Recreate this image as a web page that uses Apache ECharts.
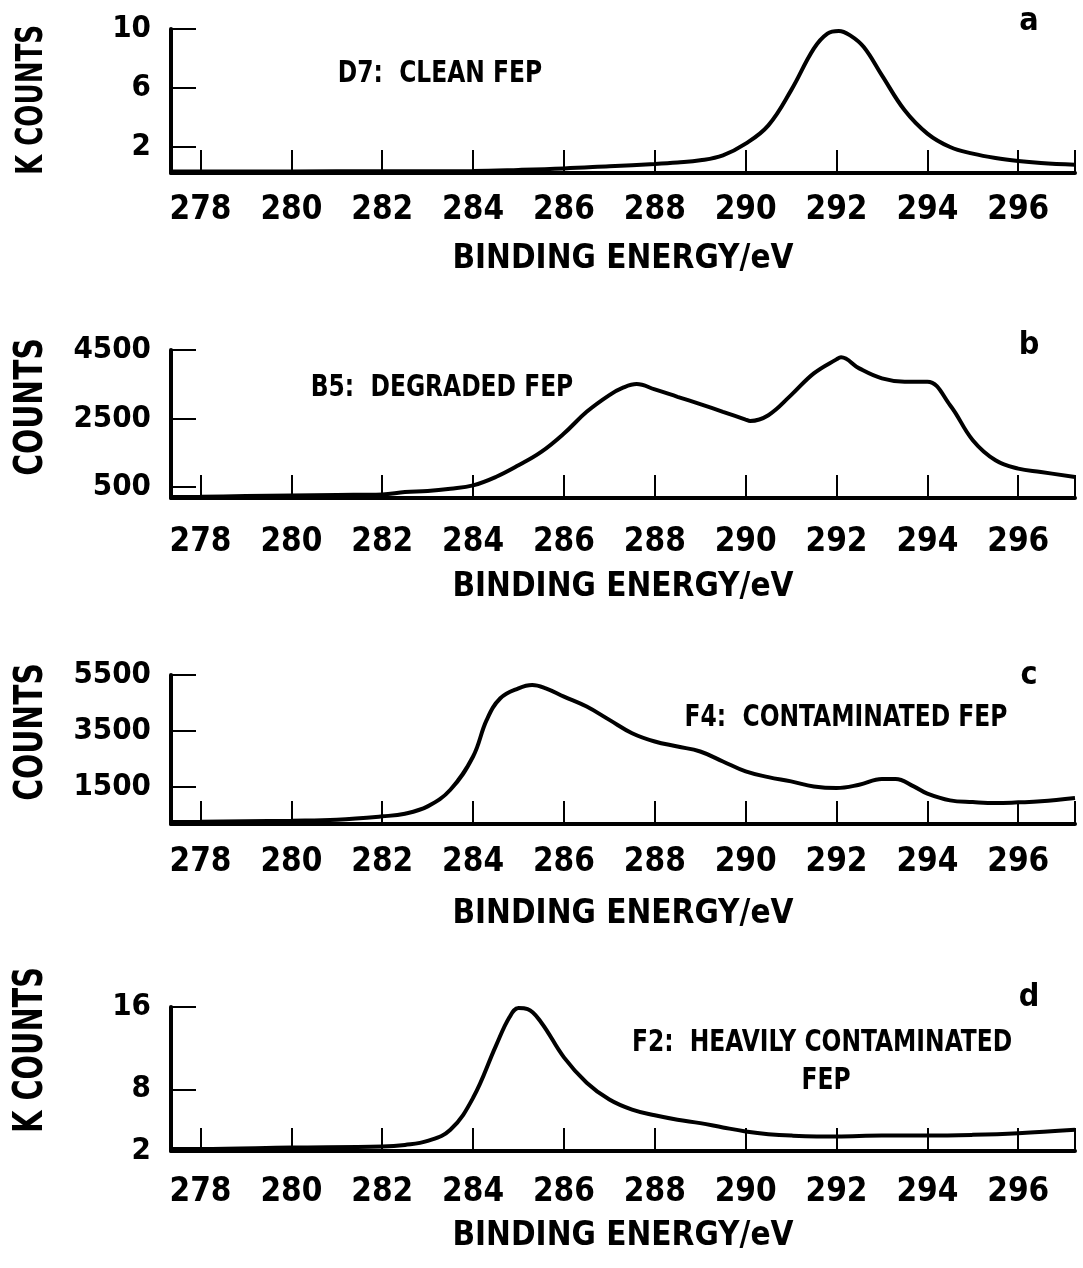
<!DOCTYPE html>
<html>
<head>
<meta charset="utf-8">
<script src="https://cdn.jsdelivr.net/npm/echarts@6/dist/echarts.min.js"></script>
<style>
html,body{margin:0;padding:0;background:#fff}
#main{width:1083px;height:1268px}
</style>
</head>
<body>
<div id="main"></div>
<script>
// x 轴刻度 (eV)
var energyTicks = [278,280,282,284,286,288,290,292,294,296];
var energyMin = 277.35, energyMax = 297.25;

// a: D7 clean FEP (K counts)
var energyA = [277.35,278,280,282,284,285,286,287,288,288.5,289,289.5,290,290.5,291,291.5,291.8,292.05,292.3,292.6,293,293.5,294,294.5,295,295.5,296,296.5,297.25];
var countsA = [0.35,0.35,0.35,0.36,0.38,0.45,0.55,0.7,0.85,0.95,1.1,1.44,2.23,3.47,5.84,8.67,9.69,9.87,9.57,8.78,6.86,4.49,2.91,2.0,1.55,1.25,1.05,0.92,0.8];
var ticksA = [2,6,10];

// b: B5 degraded FEP (counts)
var energyB = [277.35,278,279,280,281,282,282.5,283,283.5,284,284.5,285,285.5,286,286.5,287,287.3,287.6,288,288.5,289,289.5,290,290.1,290.5,291,291.5,292,292.1,292.5,293,293.5,294,294.5,295,295.5,296,296.5,297.25];
var countsB = [210,215,235,255,270,285,354,383,450,550,793,1134,1524,2061,2695,3183,3400,3505,3349,3134,2920,2695,2470,2430,2597,3183,3817,4227,4285,3963,3670,3573,3573,2890,1866,1280,1037,939,793];
var ticksB = [500,2500,4500];

// c: F4 contaminated FEP (counts)
var energyC = [277.35,278,279,280,281,282,282.5,283,283.5,284,284.3,284.6,285,285.3,285.6,286,286.5,287,287.5,288,288.5,289,289.5,290,290.5,291,291.5,292,292.5,293,293.3,293.7,294,294.5,295,295.5,296,296.5,297.25];
var countsC = [250,260,280,300,337,455,550,811,1405,2592,3898,4669,5025,5144,5025,4729,4373,3898,3423,3126,2948,2770,2414,2058,1856,1702,1524,1464,1583,1785,1785,1524,1263,1025,966,930,954,990,1108];
var ticksC = [1500,3500,5500];

// d: F2 heavily contaminated FEP (K counts)
var energyD = [277.35,278,280,282,282.5,283,283.5,284,284.5,284.8,285,285.2,285.5,286,286.5,287,287.5,288,288.5,289,289.5,290,290.5,291,292,293,294,295,296,297.25];
var countsD = [2.2,2.2,2.33,2.43,2.59,2.98,4.06,7.17,12.2,15.0,15.9,15.8,14.5,11.1,8.64,7.0,6.02,5.47,5.04,4.71,4.29,3.9,3.63,3.5,3.41,3.5,3.5,3.57,3.73,4.06];
var ticksD = [2,8,16];

var FONT = "'Liberation Sans Narrow','DejaVu Sans Condensed','Liberation Sans',Arial,sans-serif";

function pairs(xs, ys) {
    return xs.map(function (x, i) { return [x, ys[i]]; });
}

// 每个面板的位置
var panels = [
    {top: 29,   height: 144, min: 0.24, max: 10,   ticks: ticksA, data: pairs(energyA, countsA), labelMargin: 21, nameGap: 70},
    {top: 350,  height: 148, min: 180,  max: 4500, ticks: ticksB, data: pairs(energyB, countsB), labelMargin: 28, nameGap: 73},
    {top: 675,  height: 149, min: 182,  max: 5500, ticks: ticksC, data: pairs(energyC, countsC), labelMargin: 22, nameGap: 74},
    {top: 1007, height: 144, min: 2,    max: 16,   ticks: ticksD, data: pairs(energyD, countsD), labelMargin: 25, nameGap: 69}
];

var grids = [], xAxes = [], yAxes = [], series = [];
panels.forEach(function (p, i) {
    grids.push({left: 171, right: 8, top: p.top, height: p.height});
    xAxes.push({
        type: 'value', gridIndex: i, min: energyMin, max: energyMax,
        name: 'BINDING ENERGY/eV', nameLocation: 'middle', nameGap: p.nameGap,
        nameTextStyle: {fontFamily: FONT, fontWeight: 'bold', fontSize: 33, color: '#000'},
        axisLine: {lineStyle: {color: '#000', width: 4}},
        axisTick: {inside: true, length: 23, lineStyle: {color: '#000', width: 2},
            customValues: energyTicks.concat([energyMax])},
        axisLabel: {customValues: energyTicks, margin: p.labelMargin, color: '#000',
            fontFamily: FONT, fontWeight: 'bold', fontSize: 33},
        splitLine: {show: false}
    });
    yAxes.push({
        type: 'value', gridIndex: i, min: p.min, max: p.max,
        axisLine: {show: true, lineStyle: {color: '#000', width: 4}},
        axisTick: {show: true, inside: true, length: 25, lineStyle: {color: '#000', width: 2},
            customValues: p.ticks},
        axisLabel: {customValues: p.ticks, margin: 20, color: '#000',
            fontFamily: FONT, fontWeight: 'bold', fontSize: 31,
            formatter: function (v) { return String(v); }},
        splitLine: {show: false}
    });
    series.push({
        type: 'line', xAxisIndex: i, yAxisIndex: i, data: p.data,
        showSymbol: false, smooth: 0.4,
        lineStyle: {color: '#000', width: 4}, silent: true
    });
});

function txt(text, x, y, size, rot, sy) {
    return {
        type: 'text', x: x, y: y, rotation: rot || 0, scaleY: sy || 1,
        style: {text: text, fill: '#000', align: 'center', verticalAlign: 'middle',
            font: 'bold ' + size + 'px ' + FONT}
    };
}

var myChart = echarts.init(document.getElementById('main'));
var option = {
    backgroundColor: '#fff',
    animation: false,
    grid: grids,
    xAxis: xAxes,
    yAxis: yAxes,
    series: series,
    graphic: [
        txt('K COUNTS', 32, 100, 29, Math.PI / 2, 1.3),
        txt('COUNTS', 32, 407, 33, Math.PI / 2, 1.2),
        txt('COUNTS', 32, 732, 33, Math.PI / 2, 1.2),
        txt('K COUNTS', 32, 1050, 32, Math.PI / 2, 1.25),
        txt('D7:  CLEAN FEP', 440, 74, 26, 0, 1.15),
        txt('B5:  DEGRADED FEP', 442, 388, 26, 0, 1.15),
        txt('F4:  CONTAMINATED FEP', 846, 718, 26, 0, 1.15),
        txt('F2:  HEAVILY CONTAMINATED', 822, 1043, 26, 0, 1.15),
        txt('FEP', 826, 1081, 26, 0, 1.15),
        txt('a', 1029, 22, 32),
        txt('b', 1029, 346, 32),
        txt('c', 1029, 676, 32),
        txt('d', 1029, 998, 32)
    ]
};
myChart.setOption(option);
</script>
</body>
</html>
